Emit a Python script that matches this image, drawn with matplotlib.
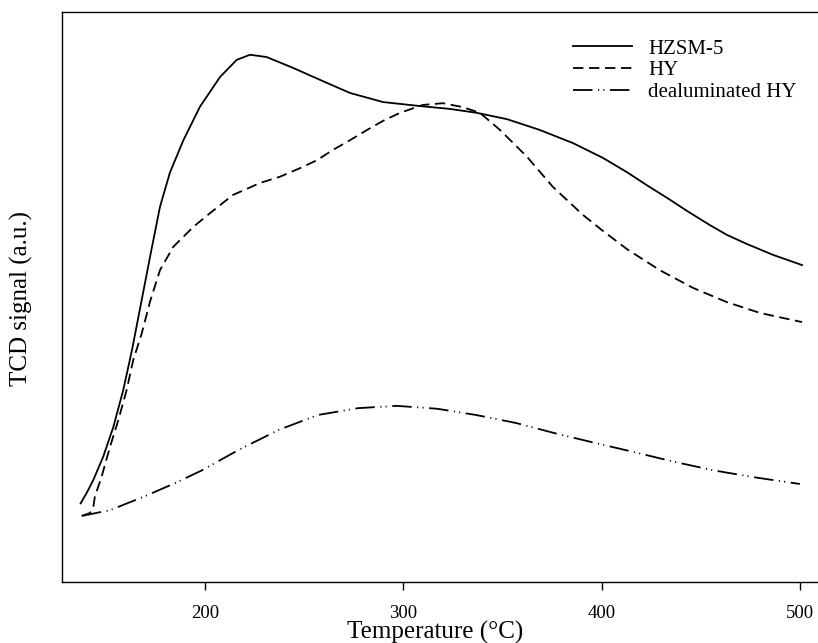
import matplotlib
matplotlib.use("Agg")
import matplotlib.pyplot as plt

plt.rcParams['font.family'] = ['Liberation Serif', 'DejaVu Serif']
plt.rcParams['lines.scale_dashes'] = False

# Temperature (°C) and TCD signal (a.u., arbitrary scale 0-100)
hzsm5_t = [137.3, 140.3, 143.7, 148.7, 153.8, 158.8, 163.2, 168.1, 172.5, 177.3, 182.3,
           189.1, 197.5, 207.6, 216.0, 222.7, 231.1, 244.4, 258.0, 273.1, 289.8, 308.4,
           323.5, 337.2, 352.3, 368.9, 385.6, 400.7, 412.8, 422.9, 433.0, 443.1, 454.7,
           463.2, 473.3, 486.4, 501.1]
hzsm5_s = [13.8, 15.6, 17.9, 22.0, 27.2, 33.7, 40.7, 49.5, 57.4, 65.8, 71.8,
           77.5, 83.4, 88.6, 91.6, 92.5, 92.1, 90.2, 88.1, 85.8, 84.2, 83.5,
           83.0, 82.3, 81.2, 79.3, 77.0, 74.4, 71.9, 69.6, 67.4, 65.1, 62.6,
           60.9, 59.3, 57.4, 55.6]

hy_t = [137.8, 142.0, 143.7, 144.5, 147.9, 152.1, 156.3, 160.5, 163.8, 168.1, 172.3,
        177.3, 184.0, 194.1, 202.5, 214.1, 227.7, 237.8, 247.9, 256.5, 264.5, 273.1,
        281.7, 289.8, 298.3, 309.9, 320.0, 330.1, 338.7, 348.8, 362.4, 375.5, 390.6,
        399.2, 412.8, 429.4, 446.1, 463.2, 479.9, 501.1]
hy_s = [11.6, 12.1, 13.2, 15.0, 18.5, 23.7, 28.4, 33.7, 38.9, 43.6, 49.2,
        54.7, 58.8, 62.3, 64.7, 67.9, 70.0, 71.1, 72.6, 74.0, 75.8, 77.5,
        79.3, 80.9, 82.3, 83.7, 84.0, 83.3, 82.3, 79.3, 74.6, 69.3, 64.4,
        62.0, 58.4, 54.7, 51.6, 49.1, 47.2, 45.6]

dealhy_t = [138.0, 152.1, 168.7, 185.9, 198.5, 217.1, 237.3, 257.0, 277.2, 296.8, 317.0,
            336.7, 356.8, 376.5, 396.7, 416.3, 436.5, 456.3, 476.4, 500.0]
dealhy_s = [11.6, 12.6, 14.9, 17.5, 19.6, 23.2, 26.7, 29.3, 30.5, 30.9, 30.4,
            29.3, 27.9, 26.1, 24.4, 22.8, 21.1, 19.6, 18.4, 17.2]

labels = ['HZSM-5', 'HY', 'dealuminated HY']
xticks = [200, 300, 400, 500]

W, H = 818, 643
fig = plt.figure(figsize=(W / 100, H / 100), dpi=100)
ax = fig.add_axes([62 / W, 1 - 582 / H, (830 - 62) / W, 570 / H])

lw = 1.3
ax.plot(hzsm5_t, hzsm5_s, color='black', lw=lw, label=labels[0])
ax.plot(hy_t, hy_s, color='black', lw=lw, linestyle=(0, (7.5, 4.0)), label=labels[1])
ax.plot(dealhy_t, dealhy_s, color='black', lw=lw,
        linestyle=(0, (14.0, 4.0, 0.8, 3.0, 0.8, 4.0)), label=labels[2])

ax.set_xlim(127.9, 515.2)
ax.set_ylim(0, 100)
ax.set_xticks(xticks)
ax.set_xticklabels([str(t) for t in xticks])
ax.set_yticks([])
ax.tick_params(axis='x', direction='out', length=6, width=1.0, pad=10.5, labelsize=13.5)
for sp in ax.spines.values():
    sp.set_linewidth(1.0)
ax.spines['right'].set_visible(False)

ax.set_xlabel('Temperature (°C)', fontsize=18, va='baseline')
ax.xaxis.set_label_coords((435 - 62) / 768, -(639 - 582) / 570)
ax.set_ylabel('TCD signal (a.u.)', fontsize=18, va='center')
ax.yaxis.set_label_coords(-(62 - 21) / 768, 0.498)

leg = ax.legend(loc='upper left', bbox_to_anchor=(573 / W, 1 - 39 / H),
                bbox_transform=fig.transFigure, frameon=False, fontsize=15,
                handlelength=2.85, handletextpad=0.75, borderpad=0, borderaxespad=0,
                labelspacing=0.1)

fig.savefig('out.png', dpi=100)
